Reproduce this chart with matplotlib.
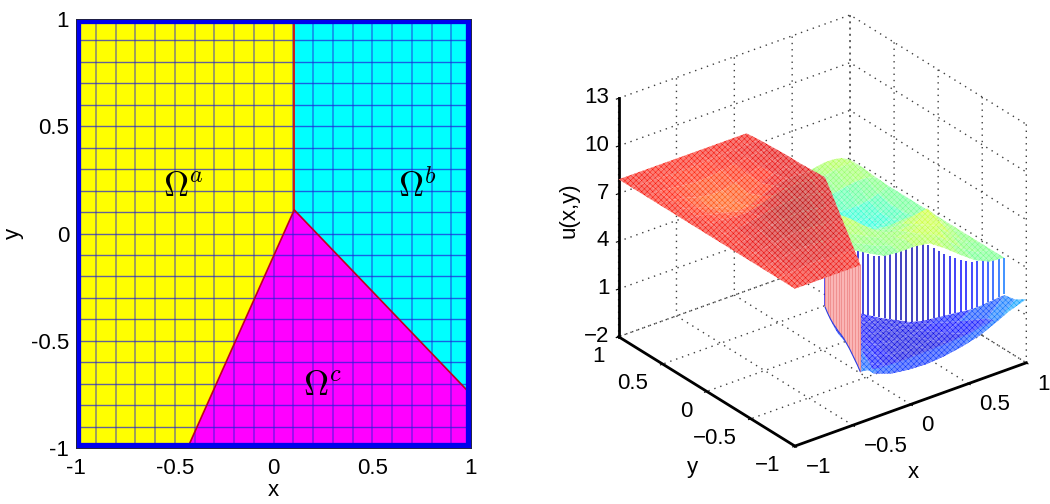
import numpy as np
import matplotlib
matplotlib.use('Agg')
import matplotlib.pyplot as plt
from matplotlib.patches import Polygon
from mpl_toolkits.mplot3d.art3d import Poly3DCollection, Line3DCollection

plt.rcParams['font.family'] = ['Liberation Sans', 'DejaVu Sans']
plt.rcParams['mathtext.fontset'] = 'cm'
plt.rcParams['hatch.linewidth'] = 0.32

W, H = 1050, 504

# left panel
mesh_lines = [-0.9, -0.8, -0.7, -0.6, -0.5, -0.4, -0.3, -0.2, -0.1, 0.0, 0.1,
              0.2, 0.3, 0.4, 0.5, 0.6, 0.7, 0.8, 0.9]
mesh_rows = mesh_lines
kink = (0.105, 0.11)
region_a = [(-1, -1), (-0.435, -1), kink, (0.105, 1), (-1, 1)]
region_b = [kink, (1, -0.75), (1, 1), (0.105, 1)]
region_c = [(-0.435, -1), (1, -1), (1, -0.75), kink]
ticks2d = [-1, -0.5, 0, 0.5, 1]
ticklabels2d = ['-1', '-0.5', '0', '0.5', '1']
ticklabels3d = ['\u22121', '\u22120.5', '0', '0.5', '1']

# right panel, heights (rows in y, columns in x)
a_rows = [1, 0.85, 0.7, 0.55, 0.4, 0.25, 0.11, -0.07, -0.25, -0.44, -0.62, -0.81, -1]
z_a = [
    [7.9, 7.9, 7.9, 7.9, 7.9, 7.9, 7.9, 7.9, 7.9, 7.9, 7.9],
    [7.9, 7.9, 7.9, 7.85, 7.85, 7.85, 7.9, 7.95, 7.95, 8.0, 8.0],
    [7.9, 7.9, 7.8, 7.7, 7.6, 7.65, 7.75, 7.9, 8.0, 8.05, 8.05],
    [7.9, 7.85, 7.7, 7.45, 7.3, 7.3, 7.5, 7.75, 7.95, 8.05, 8.1],
    [7.9, 7.85, 7.6, 7.3, 7.05, 7.1, 7.35, 7.7, 8.0, 8.1, 8.1],
    [7.9, 7.9, 7.7, 7.5, 7.3, 7.35, 7.7, 8.05, 8.2, 8.2, 8.15],
    [7.9, 7.9, 7.85, 7.75, 7.75, 7.95, 8.2, 8.35, 8.4, 8.3, 8.2],
    [7.9, 7.9, 7.95, 8.05, 8.2, 8.35, 8.45, 8.5, 8.45, 8.3, 8.2],
    [7.9, 7.95, 8.05, 8.2, 8.35, 8.45, 8.5, 8.5, 8.4, 8.3, 8.15],
    [7.9, 8.0, 8.1, 8.2, 8.3, 8.4, 8.4, 8.35, 8.3, 8.2, 8.1],
    [7.9, 7.95, 8.05, 8.15, 8.2, 8.25, 8.25, 8.2, 8.15, 8.1, 8.05],
    [7.9, 7.95, 8.0, 8.05, 8.1, 8.1, 8.1, 8.05, 8.05, 8.0, 8.0],
    [7.9, 7.9, 7.9, 7.9, 7.9, 7.9, 7.9, 7.9, 7.9, 7.9, 7.9],
]
z_b = [
    [3.2, 3.45, 3.7, 3.55, 3.45, 3.75, 4.15, 4.4, 4.15, 3.8, 3.5, 3.45, 3.75],
    [3.5, 3.7, 3.9, 3.85, 3.75, 3.8, 4.2, 4.6, 4.6, 4.2, 3.75, 3.55, 3.75],
    [3.7, 3.95, 4.15, 4.15, 4.0, 3.9, 3.95, 4.3, 4.8, 4.7, 4.2, 3.7, 3.75],
    [3.8, 4.05, 4.3, 4.4, 4.3, 4.1, 3.9, 4.0, 4.4, 5.0, 4.6, 4.0, 3.75],
    [3.8, 4.15, 4.4, 4.55, 4.45, 4.0, 3.65, 3.7, 4.0, 4.5, 4.9, 4.2, 3.75],
    [3.8, 4.15, 4.5, 4.65, 4.3, 3.7, 3.3, 3.3, 3.5, 3.8, 4.0, 3.8, 3.75],
    [3.8, 4.05, 4.3, 4.25, 3.7, 3.2, 2.9, 2.8, 2.9, 3.0, 3.2, 3.4, 3.75],
    [3.7, 3.85, 3.9, 3.7, 3.35, 3.0, 2.7, 2.55, 2.5, 2.6, 2.85, 3.2, 3.75],
    [3.6, 3.7, 3.6, 3.35, 3.05, 2.8, 2.6, 2.5, 2.5, 2.55, 2.8, 3.2, 3.75],
    [3.55, 3.55, 3.45, 3.25, 3.05, 2.9, 2.8, 2.75, 2.8, 2.9, 3.1, 3.4, 3.75],
    [3.5, 3.5, 3.45, 3.35, 3.3, 3.25, 3.3, 3.35, 3.5, 3.7, 3.85, 3.9, 3.8],
    [3.5, 3.55, 3.6, 3.6, 3.65, 3.75, 3.9, 4.0, 4.15, 4.3, 4.4, 4.4, 3.9],
    [3.5, 3.6, 3.65, 3.75, 3.85, 3.95, 4.0, 4.1, 4.2, 4.3, 4.3, 4.2, 3.9],
]
c_rows = [-1, -0.875, -0.75, -0.6, -0.45, -0.3, -0.15, 0, 0.11]
z_c = [
    [1.2, 1.0, 0.95, 0.95, 1.0, 1.05, 1.15, 1.35, 1.6, 2.0],
    [1.15, 0.1, -0.3, -0.45, -0.5, -0.4, -0.2, 0.1, 0.6, 1.55],
    [1.1, 0.2, -0.4, -0.6, -0.65, -0.65, -0.55, -0.3, 0.3, 1.4],
    [1.0, 0.35, -0.3, -0.55, -0.65, -0.65, -0.6, -0.45, -0.05, 0.5],
    [0.65, 0.3, -0.1, -0.45, -0.6, -0.65, -0.6, -0.55, -0.35, -0.1],
    [0.3, 0.15, -0.05, -0.3, -0.45, -0.55, -0.6, -0.6, -0.6, -0.6],
    [0.1, 0.05, -0.05, -0.15, -0.25, -0.35, -0.4, -0.45, -0.45, -0.45],
    [0.05, 0.05, 0.0, -0.05, -0.05, -0.1, -0.1, -0.1, -0.1, -0.1],
    [0.05, 0.05, 0.05, 0.05, 0.05, 0.05, 0.05, 0.05, 0.05, 0.05],
]
wall_top = [3.2, 3.3, 3.4, 3.5, 3.6, 3.7, 3.7, 3.6, 3.5, 3.4, 3.4, 3.5, 3.7, 3.85, 4.0, 4.2, 4.3,
            4.4, 4.4, 4.3, 4.1, 3.95, 3.8, 3.65, 3.55, 3.45, 3.4, 3.4, 3.45, 3.5, 3.6, 3.7, 3.75, 3.75]
wall_bot = [0.1, 0.05, 0.0, -0.05, -0.1, -0.15, -0.2, -0.25, -0.3, -0.35, -0.4, -0.45, -0.5, -0.52,
            -0.55, -0.6, -0.6, -0.55, -0.5, -0.4, -0.3, -0.2, -0.1, 0.0, 0.1, 0.2, 0.3, 0.4, 0.55,
            0.7, 0.9, 1.05, 1.25, 1.45]
left_wall_bot = [0.05, 0.05, 0.1, 0.2, 0.35, 0.5, 0.7, 0.85, 0.95, 1.05, 1.1, 1.15, 1.2, 1.2]
plate_height = 7.95

fig = plt.figure(figsize=(W / 100, H / 100), dpi=100)

# ---- 2D partition ----
ax1 = fig.add_axes([76 / W, 1 - 448 / H, 395 / W, 429 / H])
ax1.add_patch(Polygon(region_a, fc='#ffff00', ec='none'))
ax1.add_patch(Polygon(region_b, fc='#00ffff', ec='none'))
ax1.add_patch(Polygon(region_c, fc='#ff00ff', ec='none'))
for v in mesh_lines:
    ax1.axvline(v, color='#2020d8', lw=1.1, alpha=0.55)
for v in mesh_rows:
    ax1.axhline(v, color='#2020d8', lw=1.0, alpha=0.7)
ax1.plot([0.105, 0.105], [1, 0.11], color='#d01010', lw=1.3)
ax1.plot([-0.435, 0.105, 1], [-1, 0.11, -0.75], color='#c00020', lw=1.2)
# thick boundary of the mesh, half of it clipped away by the axes
ax1.plot([-1, 1, 1, -1, -1], [-1, -1, 1, 1, -1], color='#0000ee', lw=7.4)
ax1.set_xlim(-1, 1)
ax1.set_ylim(-1, 1)
for s in ax1.spines.values():
    s.set_linewidth(0.7)
    s.set_color('#202040')
ax1.set_xticks(ticks2d)
ax1.set_xticklabels(ticklabels2d, fontsize=16)
ax1.set_yticks(ticks2d)
ax1.set_yticklabels(ticklabels2d, fontsize=16)
ax1.tick_params(axis='x', length=0, pad=7)
ax1.tick_params(axis='y', length=0, pad=5)
ax1.set_xlabel('x', fontsize=16, labelpad=1)
ax1.set_ylabel('y', fontsize=16, labelpad=5)
ax1.text(-0.458, 0.22, r'$\Omega^a$', fontsize=25, ha='center', va='center', color='k')
ax1.text(0.73, 0.22, r'$\Omega^b$', fontsize=25, ha='center', va='center', color='k')
ax1.text(0.246, -0.71, r'$\Omega^c$', fontsize=25, ha='center', va='center', color='k')

# ---- 3D surface ----
size = 478
cx, cy = 816, 237
ax2 = fig.add_axes([(cx - size / 2) / W, 1 - (cy + size / 2) / H, size / W, size / H],
                   projection='3d', proj_type='ortho', computed_zorder=False)
ax2.patch.set_alpha(0)
ax2.view_init(elev=28.2, azim=-127.3)
ax2.set_box_aspect((1, 1, 0.93))
ax2.set_xlim(-1, 1, view_margin=0)
ax2.set_ylim(-1, 1, view_margin=0)
ax2.set_zlim(-2, 13, view_margin=0)

cmap = plt.get_cmap('jet')
def colour(z):
    return cmap((z + 1.5) / 10.5)

def left_edge(y):
    # Omega a / Omega c interface
    return np.where(y >= 0.11, 0.105, 0.105 - 0.54 * (0.11 - y) / 1.11)

def right_edge(y):
    return np.minimum(1.0, 0.105 + (0.11 - y) * 0.895 / 0.86)

def draw_cells(X, Y, Z, base):
    cells = []
    for j in range(Z.shape[0] - 1):
        for i in range(Z.shape[1] - 1):
            idx = [(j, i), (j, i + 1), (j + 1, i + 1), (j + 1, i)]
            verts = [(X[p], Y[p], Z[p]) for p in idx]
            depth = sum(X[p] + Y[p] for p in idx)
            cells.append((depth, verts, np.mean([Z[p] for p in idx])))
    cells.sort(key=lambda c: -c[0])
    for k, (d, verts, zm) in enumerate(cells):
        col = colour(zm)
        pc = Poly3DCollection([verts], facecolor=tuple(0.46 + 0.54 * np.array(col[:3])),
                              edgecolor=col, hatch='xxxxxx', linewidth=0,
                              zorder=base + k * 0.001)
        ax2.add_collection3d(pc, autolim=False)

za = np.array(z_a)
ya = np.array(a_rows, dtype=float)
Ya = np.repeat(ya[:, None], za.shape[1], axis=1)
Xa = np.array([np.linspace(-1, float(left_edge(y)), za.shape[1]) for y in ya])

zc = np.array(z_c)
yc = np.array(c_rows, dtype=float)
Yc = np.repeat(yc[:, None], zc.shape[1], axis=1)
Xc = np.array([np.linspace(float(left_edge(y)), float(right_edge(y)), zc.shape[1]) for y in yc])

zb = np.array(z_b)
xb = np.linspace(0.105, 1, zb.shape[1])
yb_low = 0.11 - (xb - 0.105) * 0.86 / 0.895
Xb = np.repeat(xb[None, :], zb.shape[0], axis=0)
Yb = np.array([yb_low + f * (1 - yb_low) for f in np.linspace(0, 1, zb.shape[0])])

draw_cells(Xc, Yc, zc, 2)
draw_cells(Xb, Yb, zb, 4)

# interface walls
t = np.linspace(0, 1, len(wall_top))
wx = 0.105 + 0.895 * t
wy = 0.11 - 0.86 * t
wt = np.array(wall_top)
wb = np.array(wall_bot)
ax2.add_collection3d(Poly3DCollection(
    [list(zip(wx, wy, wt)) + list(zip(wx[::-1], wy[::-1], wb[::-1]))],
    facecolor='white', edgecolor='none', zorder=3), autolim=False)
segs = [[(wx[k], wy[k], wt[k]), (wx[k], wy[k], wb[k])] for k in range(len(t))]
cols = [colour(v - 0.5) for v in wb]
ax2.add_collection3d(Line3DCollection(segs, colors=cols, linewidths=1.3, alpha=0.8, zorder=3.5), autolim=False)

s = np.linspace(0, 1, len(left_wall_bot))
lx = 0.105 - 0.54 * s
ly = 0.11 - 1.11 * s
lb = np.array(left_wall_bot)
lt = np.full(len(s), plate_height)
ax2.add_collection3d(Poly3DCollection(
    [list(zip(lx, ly, lt)) + list(zip(lx[::-1], ly[::-1], lb[::-1]))],
    facecolor='#fbb8b8', edgecolor='none', zorder=6), autolim=False)
segs = [[(lx[k], ly[k], lt[k]), (lx[k], ly[k], lb[k])] for k in range(len(s))]
ax2.add_collection3d(Line3DCollection(segs, colors='#f09090', linewidths=0.8, zorder=6.2), autolim=False)
ax2.add_collection3d(Line3DCollection([list(zip(lx, ly, lb))], colors='#3040e0', linewidths=0.8, zorder=6.3), autolim=False)

draw_cells(Xa, Ya, za, 8)

zticks = [-2, 1, 4, 7, 10, 13]
ax2.set_xticks(ticks2d)
ax2.set_xticklabels(ticklabels3d, fontsize=16)
ax2.set_yticks(ticks2d)
ax2.set_yticklabels(ticklabels3d, fontsize=16)
ax2.set_zticks(zticks)
ax2.set_zticklabels([str(v).replace('-', '\u2212') for v in zticks], fontsize=16)
for axis in (ax2.xaxis, ax2.yaxis, ax2.zaxis):
    axis.set_pane_color((1, 1, 1, 0))
    axis.pane.set_edgecolor((1, 1, 1, 0))
    axis._axinfo['grid'].update(color='#404040', linestyle=(0, (1, 3.5)), linewidth=1.0)
    axis._axinfo['tick'].update(inward_factor=0.12, outward_factor=0.0)
    axis._axinfo['axisline']['linewidth'] = 2
    axis.line.set_linewidth(2)
ax2.xaxis.set_tick_params(pad=3)
ax2.yaxis.set_tick_params(pad=3)
ax2.zaxis.set_tick_params(pad=-3.9)

for lab in ax2.get_xticklabels():
    lab.set_ha('left')
    lab.set_va('center')
for lab in ax2.get_yticklabels():
    lab.set_ha('right')
    lab.set_va('center')
for lab in ax2.get_zticklabels():
    lab.set_ha('right')
    lab.set_va('center')

# axis titles of the 3D box sit where MATLAB put them
fig.text(913 / W, 1 - 472 / H, 'x', fontsize=16, ha='center', va='center')
fig.text(692 / W, 1 - 467 / H, 'y', fontsize=16, ha='center', va='center')
fig.text(569 / W, 1 - 210 / H, 'u(x,y)', fontsize=16, ha='center', va='center', rotation=90)

fig.savefig('out.png', dpi=100)
